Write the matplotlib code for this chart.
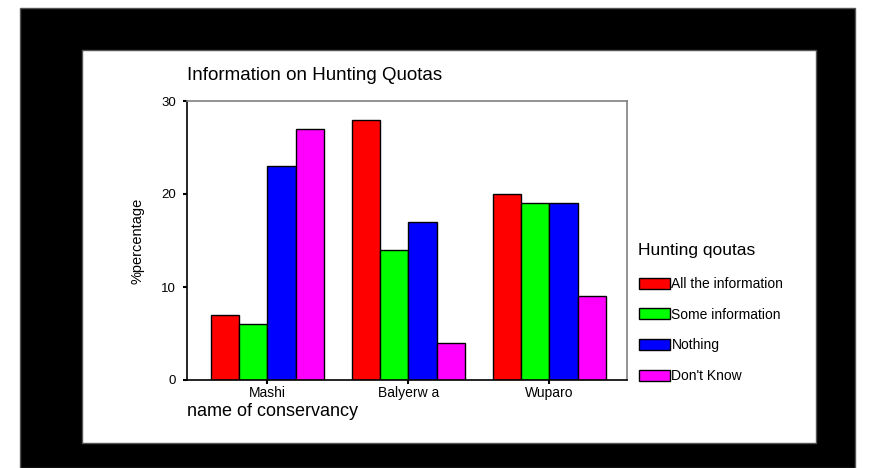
import matplotlib
matplotlib.use("Agg")
import matplotlib.pyplot as plt
from matplotlib.patches import Rectangle
import numpy as np

plt.rcParams["font.family"] = ["Liberation Sans", "DejaVu Sans"]

conservancies = ["Mashi", "Balyerw a", "Wuparo"]
answers = ["All the information", "Some information", "Nothing", "Don't Know"]
all_info = [7, 28, 20]
some_info = [6, 14, 19]
nothing = [23, 17, 19]
dont_know = [27, 4, 9]
colors = ["#ff0000", "#00ff00", "#0000ff", "#ff00ff"]

W, H = 869, 468
fig = plt.figure(figsize=(W / 100, H / 100), dpi=100, facecolor="white")

# black frame and the white panel inside it
fig.patches.append(Rectangle((20 / W, 0), 835 / W, 1 - 8 / H, transform=fig.transFigure,
                             facecolor="black", edgecolor="#555555", lw=1, zorder=-2))
fig.patches.append(Rectangle((82 / W, 1 - 443 / H), 734 / W, 393 / H, transform=fig.transFigure,
                             facecolor="white", edgecolor="#555555", lw=1, zorder=-1))

ax = fig.add_axes([187 / W, 1 - 380 / H, 440 / W, 279 / H])
ax.set_facecolor("white")

series = [all_info, some_info, nothing, dont_know]
x = np.arange(len(conservancies))
width = 0.2
for i, (vals, c, lab) in enumerate(zip(series, colors, answers)):
    ax.bar(x + (i - 1.5) * width, vals, width, color=c, edgecolor="black",
           linewidth=1, label=lab)

ax.set_xlim(-0.57, 2.55)
ax.set_ylim(0, 30)
ax.set_yticks([0, 10, 20, 30])
ax.set_xticks(x)
ax.set_xticklabels(conservancies, fontsize=10)
ax.tick_params(axis="y", length=3, width=1.5, pad=5, labelsize=9.5)
ax.tick_params(axis="x", length=3, width=1.5, pad=1.5)

ax.spines["left"].set_color("black")
ax.spines["bottom"].set_color("black")
ax.spines["top"].set_color("#808080")
ax.spines["right"].set_color("#808080")
for s in ax.spines.values():
    s.set_linewidth(1.2)

ax.set_ylabel("%percentage", fontsize=10.5, labelpad=12)
fig.text(187 / W, 1 - 75 / H, "Information on Hunting Quotas", fontsize=13.5,
         ha="left", va="center")
fig.text(187 / W, 1 - 411 / H, "name of conservancy", fontsize=13,
         ha="left", va="center")

leg = fig.legend(loc="upper left", bbox_to_anchor=(626 / W, 1 - 230 / H),
                 frameon=False, title="Hunting qoutas", title_fontsize=12.5,
                 fontsize=10, alignment="left", handlelength=2.25, handleheight=0.86,
                 handletextpad=0.12, labelspacing=1.2)
leg._legend_box.sep = 14

fig.savefig("out.png", dpi=100, facecolor="white")
